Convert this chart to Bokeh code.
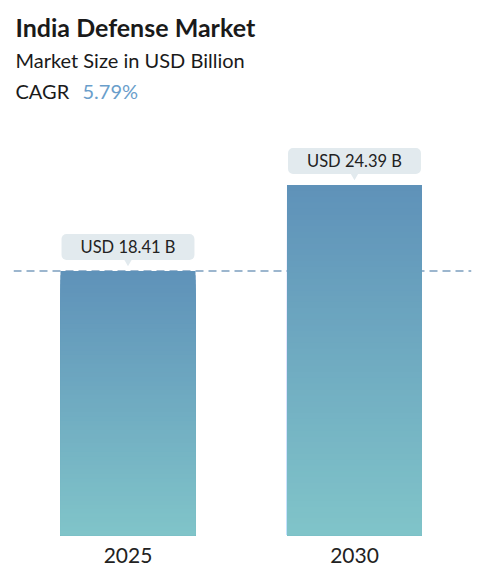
#bokeh bar chart - India Defense Market

from bokeh.plotting import figure
from bokeh.models import Range1d, FixedTicker, Span, Label
from bokeh.embed import file_html
from bokeh.resources import INLINE

#data
years = ["2025", "2030"]
values = [18.41, 24.39]
labels = ["USD 18.41 B", "USD 24.39 B"]
cagr = "5.79%"

#sizes
W, H = 478, 583
left_pad, right_pad, bottom_pad = 13, 7, 48
y_end = 37.23
ppu = (H - bottom_pad) / y_end   # pixels per data unit
bar_w = 0.596

p = figure(width=W, height=H, output_backend="svg", toolbar_location=None,
           x_range=Range1d(-0.0055, 2.0166), y_range=Range1d(0, y_end),
           y_axis_location=None, min_border_left=left_pad, min_border_right=right_pad,
           min_border_top=0, min_border_bottom=bottom_pad)
p.outline_line_color = None
p.grid.visible = False
p.background_fill_color = "white"

xs = [i + 0.5 for i in range(len(years))]

#dashed reference line at the first value
p.add_layout(Span(location=values[0], dimension="width", line_color="#7c9fbf",
                  line_width=1.5, line_dash="8 5", level="underlay"))

#gradient bars: stacked quads, biggest first
top_rgb = (95, 146, 185)
bot_rgb = (128, 196, 201)
N = 60
for x, v in zip(xs, values):
    lefts, rights, tops, cols = [], [], [], []
    for k in range(N - 1, -1, -1):
        t = k / (N - 1)
        c = tuple(int(round(bot_rgb[j] + (top_rgb[j] - bot_rgb[j]) * t)) for j in range(3))
        lefts.append(x - bar_w / 2)
        rights.append(x + bar_w / 2)
        tops.append(v * (k + 1) / N)
        cols.append("#%02x%02x%02x" % c)
    p.quad(left=lefts, right=rights, bottom=0, top=tops, fill_color=cols, line_color=None)

#callouts
box_col = "#e2eaee"
p.scatter(xs, [v + 11 / ppu for v in values], marker="inverted_triangle", size=11,
          fill_color=box_col, line_color=None)
for x, v, t in zip(xs, values, labels):
    p.add_layout(Label(x=x, y=v, y_offset=24, text=t, text_align="center",
                       text_baseline="middle", text_font="Lato", text_font_size="16.5px",
                       text_color="#222222", background_fill_color=box_col,
                       border_radius=5, padding=(19, 3)))

#titles (screen units, from bottom-left of frame)
fb = H - bottom_pad  # frame bottom in canvas px
def title(x, y, text, size, style="normal", color="#1a1a1a"):
    p.add_layout(Label(x=x - left_pad, y=fb - (y - 9), x_units="screen", y_units="screen",
                       text=text, text_font="Lato", text_font_size=size,
                       text_font_style=style, text_color=color,
                       text_baseline="alphabetic"))

title(15, 35, "India Defense Market", "25px", "bold")
title(15, 68, "Market Size in USD Billion", "20px")
title(15, 99, "CAGR", "20px")
title(82, 99, cagr, "20px", color="#6a9ecb")

#x axis with years
p.xaxis.ticker = FixedTicker(ticks=xs)
p.xaxis.major_label_overrides = {x: y for x, y in zip(xs, years)}
p.xaxis.axis_line_color = None
p.xaxis.major_tick_line_color = None
p.xaxis.minor_tick_line_color = None
p.xaxis.major_label_text_font = "Lato"
p.xaxis.major_label_text_font_size = "21px"
p.xaxis.major_label_text_color = "#222222"
p.xaxis.major_label_standoff = 6

open("out.html", "w").write(file_html(p, INLINE))
